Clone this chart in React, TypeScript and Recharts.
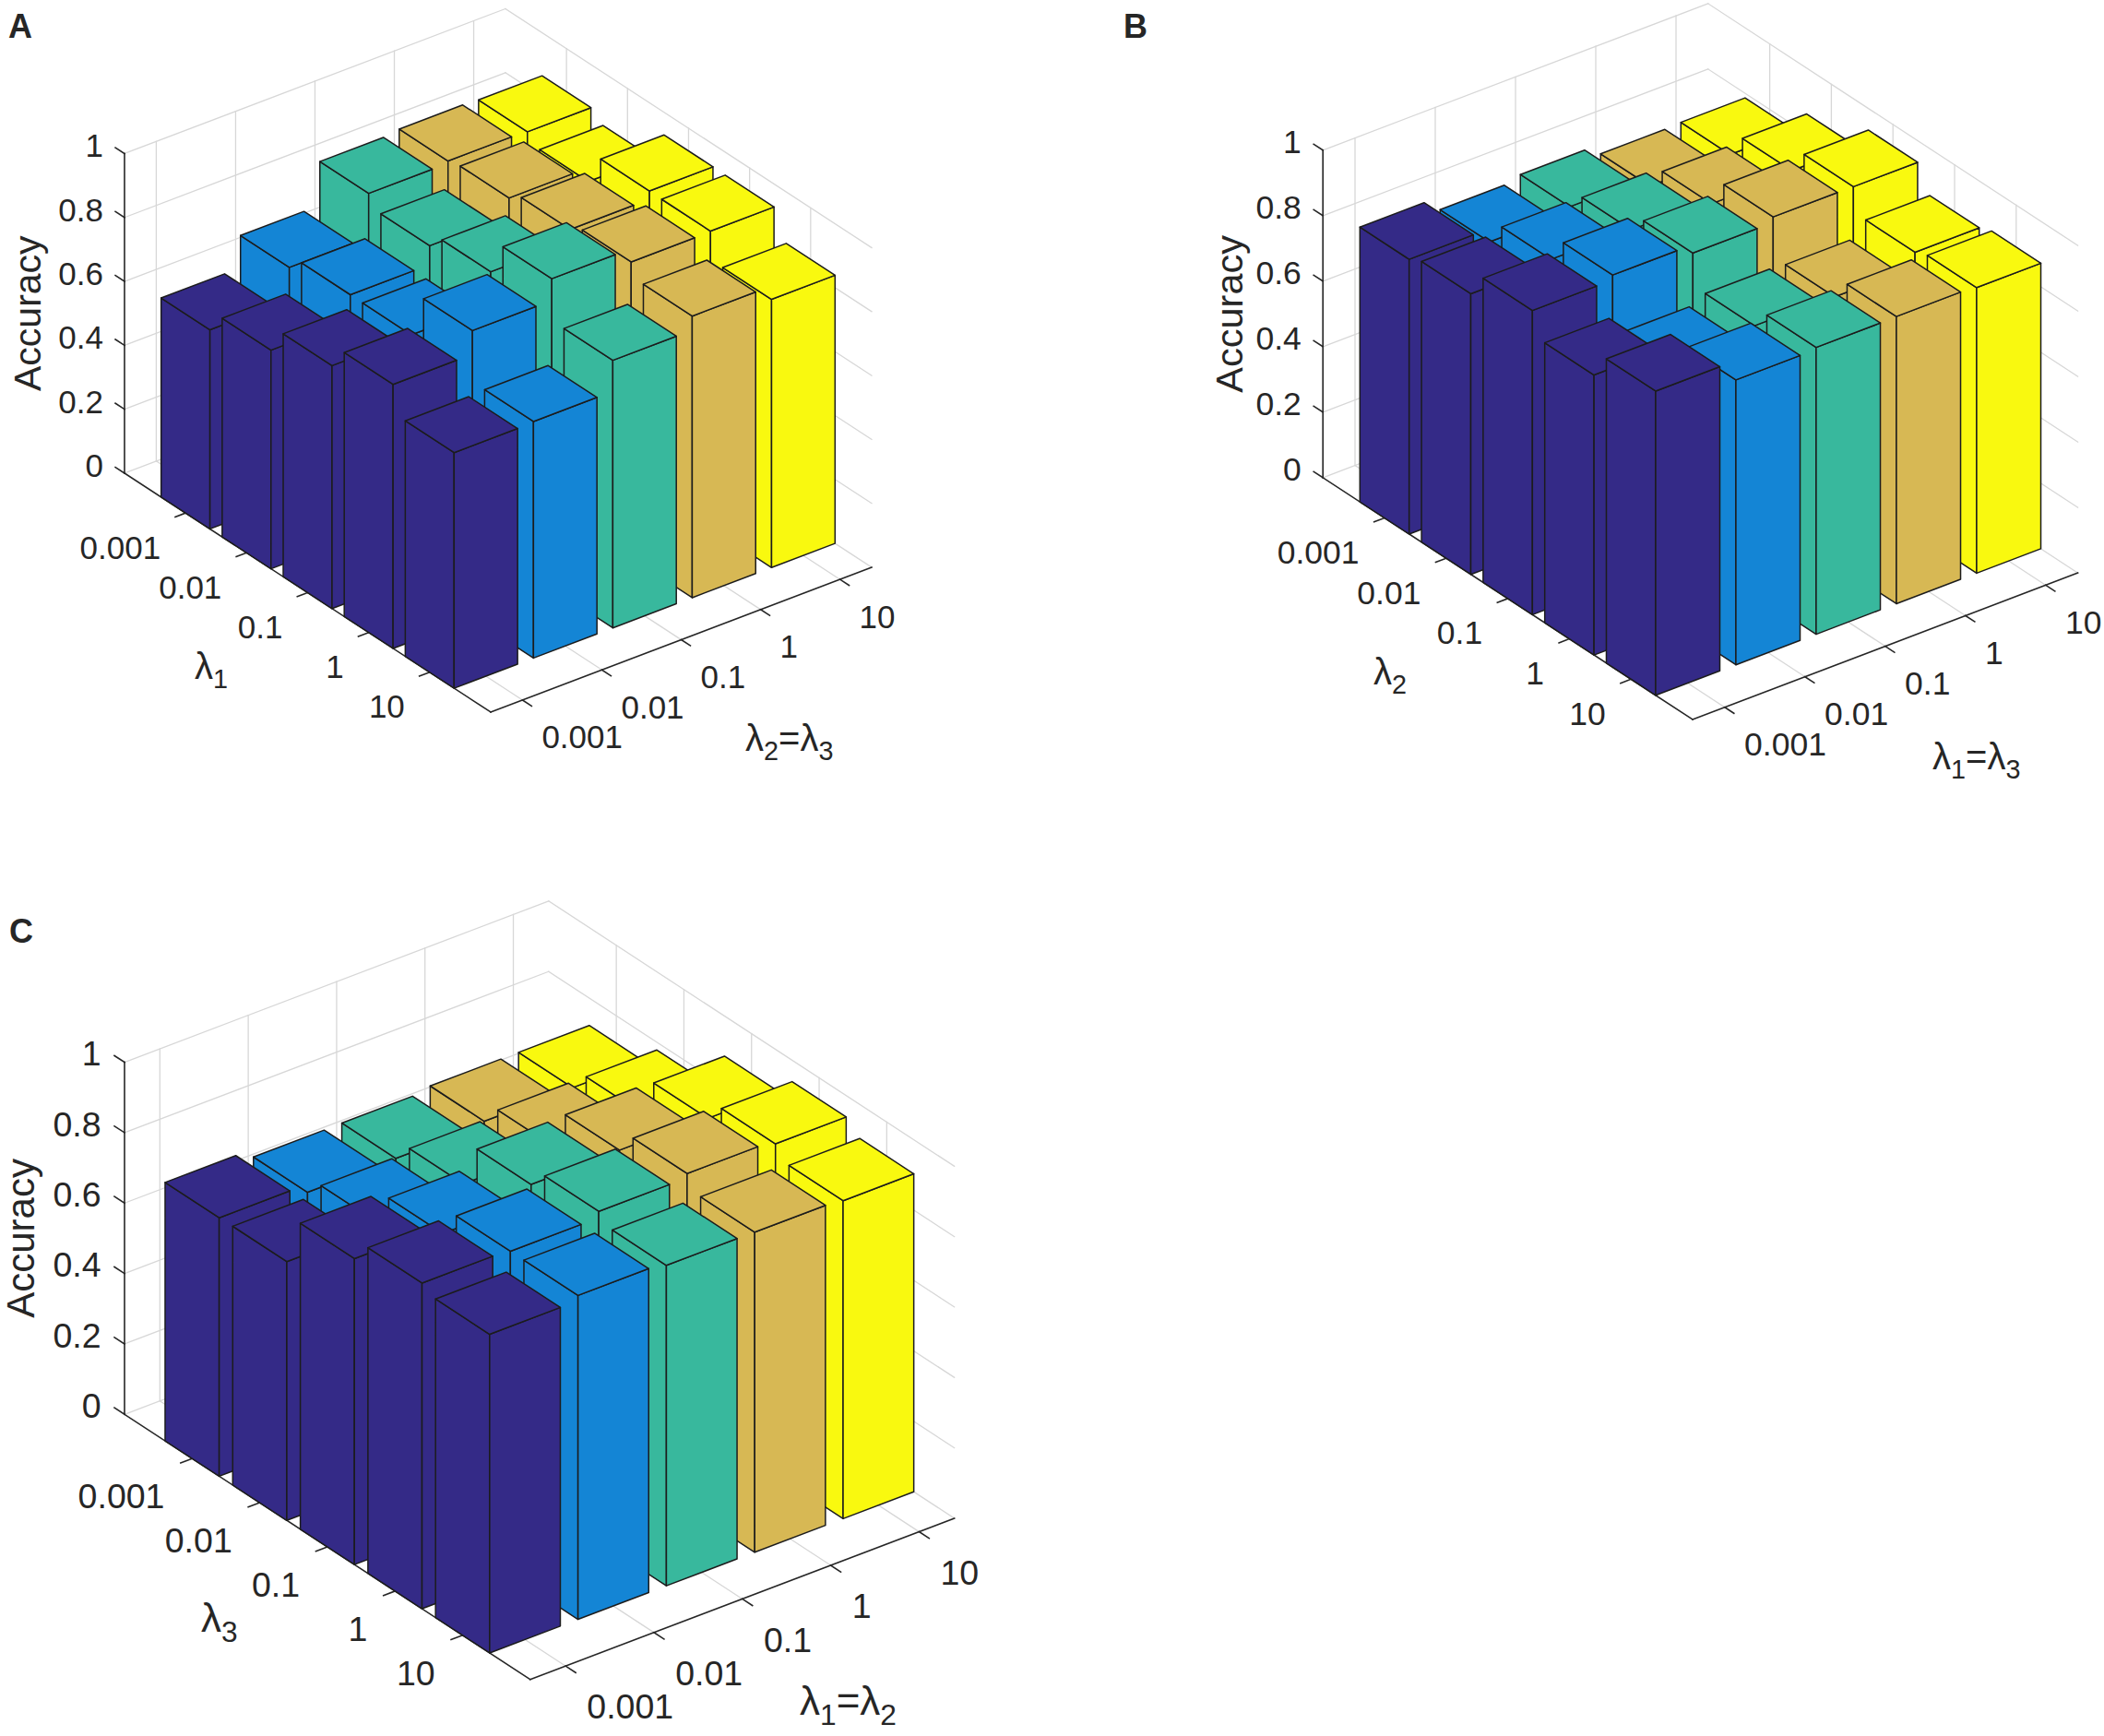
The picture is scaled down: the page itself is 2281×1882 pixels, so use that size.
import React from 'react';
import { ScatterChart, Scatter, XAxis, YAxis } from 'recharts';

// ---------------- data ----------------
const LAMBDA_LABELS = ['0.001', '0.01', '0.1', '1', '10'];
const ACCURACY_TICKS = [0, 0.2, 0.4, 0.6, 0.8, 1];
const ACCURACY_TICK_LABELS = ['0', '0.2', '0.4', '0.6', '0.8', '1'];

// Panel A: accuracy along λ1 (0.001 … 10) for each λ2=λ3 value
const A_L23_0001 = [0.623, 0.684, 0.76, 0.826, 0.737];
const A_L23_001 = [0.724, 0.763, 0.762, 0.9, 0.74];
const A_L23_01 = [0.861, 0.822, 0.865, 0.968, 0.837];
const A_L23_1 = [0.868, 0.877, 0.903, 0.926, 0.881];
const A_L23_10 = [0.865, 0.834, 0.929, 0.928, 0.839];

// Panel B: accuracy along λ2 (0.001 … 10) for each λ1=λ3 value
const B_L13_0001 = [0.839, 0.857, 0.929, 0.855, 0.929];
const B_L13_001 = [0.799, 0.869, 0.944, 0.797, 0.87];
const B_L13_01 = [0.813, 0.866, 0.918, 0.819, 0.876];
const B_L13_1 = [0.783, 0.852, 0.935, 0.814, 0.877];
const B_L13_10 = [0.786, 0.86, 0.934, 0.857, 0.872];

// Panel C: accuracy along λ3 (0.001 … 10) for each λ1=λ2 value
const C_L12_0001 = [0.734, 0.735, 0.869, 0.925, 0.905];
const C_L12_001 = [0.711, 0.755, 0.845, 0.92, 0.92];
const C_L12_01 = [0.712, 0.765, 0.889, 0.938, 0.91];
const C_L12_1 = [0.722, 0.779, 0.891, 0.95, 0.909];
const C_L12_10 = [0.722, 0.778, 0.886, 0.939, 0.903];

const SERIES_COLORS = ['#342a87', '#1485d5', '#38b89d', '#d7b854', '#f9f90f'];

// ---------------- layout / style ----------------
const CHART_W = 2281;
const CHART_H = 1882;
const X_DOMAIN = [0, CHART_W];
const Y_DOMAIN = [0, CHART_H];
const KX = CHART_W / (X_DOMAIN[1] - X_DOMAIN[0]);
const KY = CHART_H / (Y_DOMAIN[1] - Y_DOMAIN[0]);

const FONT = '"Liberation Sans", Arial, Helvetica, sans-serif';
const TEXT_COLOR = '#262626';
const GRID_COLOR = '#d7d7d7';
const AXIS_COLOR = '#262626';
const EDGE_COLOR = '#1c1c1c';

// 3-D box limits (category index units) and bar half width
const A_MAX = 6;
const B_MIN = 0.6;
const B_MAX = 5.4;
const TICK_POS = [1, 2, 3, 4, 5];
const BAR_HALF = 0.4;
const TICK_LEN_A = 0.15;
const TICK_LEN_B = 0.13;

const PANELS = [
  {
    letter: 'A', letterPos: [9, 41],
    F: [532, 772], u: [66.17, 43.17], v: [86.04, -32.71], zs: 346.5, s: 1,
    series: [A_L23_0001, A_L23_001, A_L23_01, A_L23_1, A_L23_10],
    rowTitle: [{ t: 'λ' }, { t: '1', sub: true }], rowTitlePos: [211, 736],
    colTitle: [{ t: 'λ' }, { t: '2', sub: true }, { t: '=λ' }, { t: '3', sub: true }], colTitlePos: [808, 814],
    titleSize: 40, tickSize: 35, yTitleSize: 41, yTitleDx: -105,
  },
  {
    letter: 'B', letterPos: [1218, 41],
    F: [1835, 780], u: [66.8, 43.7], v: [87.0, -33.1], zs: 355, s: 1.015,
    series: [B_L13_0001, B_L13_001, B_L13_01, B_L13_1, B_L13_10],
    rowTitle: [{ t: 'λ' }, { t: '2', sub: true }], rowTitlePos: [1489, 742],
    colTitle: [{ t: 'λ' }, { t: '1', sub: true }, { t: '=λ' }, { t: '3', sub: true }], colTitlePos: [2095, 834],
    titleSize: 40, tickSize: 35.5, yTitleSize: 41.5, yTitleDx: -102,
  },
  {
    letter: 'C', letterPos: [10, 1022],
    F: [574.8, 1820.7], u: [73.3, 47.9], v: [95.8, -36.4], zs: 381.7, s: 1.105,
    series: [C_L12_0001, C_L12_001, C_L12_01, C_L12_1, C_L12_10],
    rowTitle: [{ t: 'λ' }, { t: '3', sub: true }], rowTitlePos: [218, 1769],
    colTitle: [{ t: 'λ' }, { t: '1', sub: true }, { t: '=λ' }, { t: '2', sub: true }], colTitlePos: [867, 1859],
    titleSize: 44, tickSize: 37.5, yTitleSize: 42, yTitleDx: -112,
  },
];

// ---------------- projection ----------------
function proj(p: any, a: number, b: number, z: number) {
  return {
    x: p.F[0] + (a - A_MAX) * p.u[0] + (b - B_MIN) * p.v[0],
    y: p.F[1] + (a - A_MAX) * p.u[1] + (b - B_MIN) * p.v[1] - z * p.zs,
  };
}

function seg(P: any, Q: any, stroke: string, width: number) {
  return { x: P.x, y: P.y, x2: Q.x, y2: Q.y, stroke, width };
}

function buildScene() {
  const grid: any[] = [];
  const axes: any[] = [];
  const bars: any[] = [];
  const labels: any[] = [];

  PANELS.forEach((p) => {
    // grid on the two back walls and the floor
    ACCURACY_TICKS.forEach((t) => {
      grid.push(seg(proj(p, 0, B_MIN, t), proj(p, 0, B_MAX, t), GRID_COLOR, 1.3));
      grid.push(seg(proj(p, 0, B_MAX, t), proj(p, A_MAX, B_MAX, t), GRID_COLOR, 1.3));
    });
    const zTop = ACCURACY_TICKS[ACCURACY_TICKS.length - 1];
    TICK_POS.forEach((k) => {
      grid.push(seg(proj(p, 0, k, 0), proj(p, 0, k, zTop), GRID_COLOR, 1.3));
      grid.push(seg(proj(p, k, B_MAX, 0), proj(p, k, B_MAX, zTop), GRID_COLOR, 1.3));
      grid.push(seg(proj(p, k, B_MIN, 0), proj(p, k, B_MAX, 0), GRID_COLOR, 1.3));
      grid.push(seg(proj(p, 0, k, 0), proj(p, A_MAX, k, 0), GRID_COLOR, 1.3));
    });

    // axis lines and ticks
    axes.push(seg(proj(p, 0, B_MIN, 0), proj(p, 0, B_MIN, zTop), AXIS_COLOR, 1.6));
    axes.push(seg(proj(p, 0, B_MIN, 0), proj(p, A_MAX, B_MIN, 0), AXIS_COLOR, 1.6));
    axes.push(seg(proj(p, A_MAX, B_MIN, 0), proj(p, A_MAX, B_MAX, 0), AXIS_COLOR, 1.6));
    ACCURACY_TICKS.forEach((t) => {
      axes.push(seg(proj(p, 0, B_MIN, t), proj(p, -TICK_LEN_A, B_MIN, t), AXIS_COLOR, 1.6));
    });
    TICK_POS.forEach((k) => {
      axes.push(seg(proj(p, k, B_MIN, 0), proj(p, k, B_MIN - TICK_LEN_B, 0), AXIS_COLOR, 1.6));
      axes.push(seg(proj(p, A_MAX, k, 0), proj(p, A_MAX + TICK_LEN_A, k, 0), AXIS_COLOR, 1.6));
    });

    // bars
    const panelBars: any[] = [];
    p.series.forEach((vals: number[], j: number) => {
      vals.forEach((h: number, i: number) => {
        const a = TICK_POS[i];
        const b = TICK_POS[j];
        const c = (da: number, db: number, z: number) => proj(p, a + da * BAR_HALF, b + db * BAR_HALF, z);
        const anchor = c(1, -1, 0);
        panelBars.push({
          x: anchor.x,
          y: anchor.y,
          depth: a - b,
          fill: SERIES_COLORS[j],
          top: [c(-1, -1, h), c(1, -1, h), c(1, 1, h), c(-1, 1, h)],
          left: [c(-1, -1, 0), c(1, -1, 0), c(1, -1, h), c(-1, -1, h)],
          right: [c(1, -1, 0), c(1, 1, 0), c(1, 1, h), c(1, -1, h)],
        });
      });
    });
    panelBars.sort((m, n) => m.depth - n.depth);
    bars.push(...panelBars);

    // tick labels
    ACCURACY_TICKS.forEach((t, k) => {
      const P = proj(p, 0, B_MIN, t);
      labels.push({ x: P.x, y: P.y, text: ACCURACY_TICK_LABELS[k], dx: -23 * p.s, dy: -8.5 * p.s, anchor: 'end', size: p.tickSize });
    });
    TICK_POS.forEach((k, idx) => {
      const P = proj(p, k, B_MIN, 0);
      labels.push({ x: P.x, y: P.y, text: LAMBDA_LABELS[idx], dx: -27 * p.s, dy: 37 * p.s, anchor: 'end', size: p.tickSize });
      const Q = proj(p, A_MAX, k, 0);
      labels.push({ x: Q.x, y: Q.y, text: LAMBDA_LABELS[idx], dx: 21 * p.s, dy: 40 * p.s, anchor: 'start', size: p.tickSize });
    });
    // z title
    const M = proj(p, 0, B_MIN, zTop / 2);
    labels.push({ x: M.x, y: M.y, text: 'Accuracy', dx: p.yTitleDx, dy: 0, anchor: 'middle', size: p.yTitleSize, rotate: -90 });
    // axis titles
    labels.push({ x: p.rowTitlePos[0], y: p.rowTitlePos[1], parts: p.rowTitle, size: p.titleSize });
    labels.push({ x: p.colTitlePos[0], y: p.colTitlePos[1], parts: p.colTitle, size: p.titleSize });
    // panel letter
    labels.push({ x: p.letterPos[0], y: p.letterPos[1], parts: [{ t: p.letter }], size: 36, bold: true });
  });

  return { grid, axes, bars, labels };
}

const SCENE = buildScene();

// ---------------- shapes ----------------
function toPx(props: any, q: any) {
  return [props.cx + (q.x - props.payload.x) * KX, props.cy + (q.y - props.payload.y) * KY];
}

function SegShape(props: any) {
  const d = props.payload;
  const [x2, y2] = toPx(props, { x: d.x2, y: d.y2 });
  return <line x1={props.cx} y1={props.cy} x2={x2} y2={y2} stroke={d.stroke} strokeWidth={d.width} strokeLinecap="square" />;
}

function BarShape(props: any) {
  const d = props.payload;
  const pts = (arr: any[]) => arr.map((q) => toPx(props, q).join(',')).join(' ');
  return (
    <g>
      <polygon points={pts(d.left)} fill={d.fill} stroke={EDGE_COLOR} strokeWidth={1.5} strokeLinejoin="round" />
      <polygon points={pts(d.right)} fill={d.fill} stroke={EDGE_COLOR} strokeWidth={1.5} strokeLinejoin="round" />
      <polygon points={pts(d.top)} fill={d.fill} stroke={EDGE_COLOR} strokeWidth={1.5} strokeLinejoin="round" />
    </g>
  );
}

function LabelShape(props: any) {
  const d = props.payload;
  const X = props.cx + (d.dx || 0);
  const Y = props.cy + (d.dy || 0);
  if (d.parts) {
    const subSize = d.size * 0.72;
    const shift = d.size * 0.25;
    let inSub = false;
    return (
      <text x={X} y={Y} fontFamily={FONT} fontSize={d.size} fill={TEXT_COLOR} fontWeight={d.bold ? 'bold' : 'normal'}>
        {d.parts.map((part: any, k: number) => {
          let dy = 0;
          if (part.sub && !inSub) dy = shift;
          if (!part.sub && inSub) dy = -shift;
          inSub = !!part.sub;
          return (
            <tspan key={k} dy={dy} fontSize={part.sub ? subSize : d.size}>
              {part.t}
            </tspan>
          );
        })}
      </text>
    );
  }
  return (
    <text
      x={X}
      y={Y}
      fontFamily={FONT}
      fontSize={d.size}
      fill={TEXT_COLOR}
      textAnchor={d.anchor}
      dominantBaseline="central"
      transform={d.rotate ? `rotate(${d.rotate} ${X} ${Y})` : undefined}
    >
      {d.text}
    </text>
  );
}

export default function App() {
  return (
    <div style={{ position: 'absolute', left: 0, top: 0, width: CHART_W, height: CHART_H, background: '#ffffff' }}>
      <ScatterChart width={CHART_W} height={CHART_H} margin={{ top: 0, right: 0, bottom: 0, left: 0 }}>
        <XAxis type="number" dataKey="x" domain={X_DOMAIN} allowDataOverflow hide />
        <YAxis type="number" dataKey="y" domain={Y_DOMAIN} allowDataOverflow reversed hide />
        <Scatter data={SCENE.grid} shape={SegShape} isAnimationActive={false} />
        <Scatter data={SCENE.axes} shape={SegShape} isAnimationActive={false} />
        <Scatter data={SCENE.bars} shape={BarShape} isAnimationActive={false} />
        <Scatter data={SCENE.labels} shape={LabelShape} isAnimationActive={false} />
      </ScatterChart>
    </div>
  );
}
